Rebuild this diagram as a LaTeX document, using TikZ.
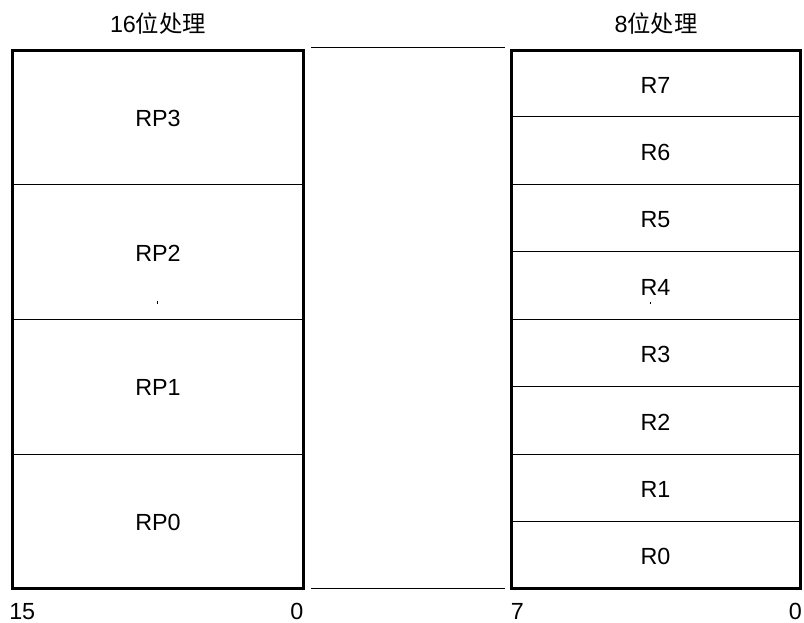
\documentclass[tikz,border=0pt]{standalone}
\usepackage{fontspec}
\setmainfont{Liberation Sans}
\newfontfamily\cjk{Noto Sans CJK SC}
\begin{document}
\begin{tikzpicture}[x=0.75pt,y=-0.75pt,
  lbl/.style={font=\fontsize{17.5}{20}\selectfont, inner sep=0pt},
  outer/.style={line width=2.25pt, line join=miter},
  div/.style={line width=0.75pt},
  tick/.style={line width=0.9pt}]
\useasboundingbox (0,0) rectangle (804,623);
% titles
\node[lbl, anchor=base] (t16) at (158,33) {16{\cjk 位处理}};
\node[lbl, anchor=base] (t8) at (656,33) {8{\cjk 位处理}};
% left box dividers
\foreach \y in {184.5,319.5,454.5} \draw[div] (12.5,\y) -- (303,\y);
% right box dividers
\foreach \y in {117,184.5,252,319.5,387,454.5,522} \draw[div] (511,\y) -- (800.5,\y);
% outer frames
\draw[outer] (12.5,50.5) rectangle (303,588.5);
\draw[outer] (511,50.5) rectangle (800.5,588.5);
% middle lines
\draw[div] (311,47.5) -- (505,47.5);
\draw[div] (311,588.5) -- (505,588.5);
% left labels
\node[lbl] (rp3) at (158,118.5) {RP3};
\node[lbl] (rp2) at (158,253) {RP2};
\node[lbl] (rp1) at (158,387.5) {RP1};
\node[lbl] (rp0) at (158,522) {RP0};
% right labels
\node[lbl] (r7) at (655.5,85) {R7};
\node[lbl] (r6) at (655.5,152) {R6};
\node[lbl] (r5) at (655.5,219.5) {R5};
\node[lbl] (r4) at (655.5,287) {R4};
\node[lbl] (r3) at (655.5,354.5) {R3};
\node[lbl] (r2) at (655.5,422) {R2};
\node[lbl] (r1) at (655.5,489.5) {R1};
\node[lbl] (r0) at (655.5,556.5) {R0};
% small ticks
\draw[tick] (157.5,301.5) -- (157.5,304);
\draw[tick] (650.5,302) -- (650.5,304.5);
% bit numbers
\node[lbl, anchor=base west] (b15) at (9,619) {15};
\node[lbl, anchor=base east] (b0l) at (303.5,619) {0};
\node[lbl, anchor=base west] (b7) at (510.5,619) {7};
\node[lbl, anchor=base east] (b0r) at (802,619) {0};
\end{tikzpicture}
\end{document}
